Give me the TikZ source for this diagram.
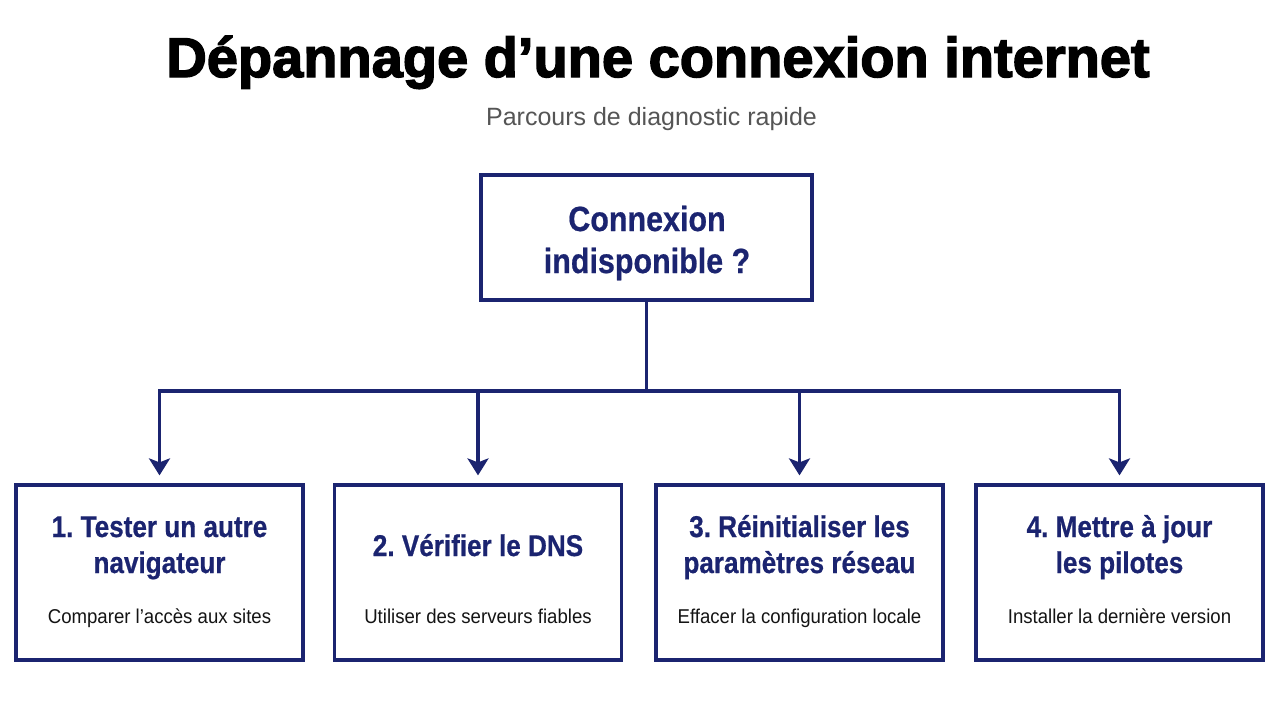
\documentclass[tikz,border=0pt]{standalone}
\usepackage{fontspec}
\setmainfont{Liberation Sans}
\newfontfamily\headfont{Liberation Sans}[FakeBold=2.5]
\newfontfamily\condfont{Liberation Sans}[FakeStretch=0.87,FakeBold=0.6]
\newfontfamily\condreg{Liberation Sans}[FakeStretch=0.93]
\usetikzlibrary{arrows.meta}
\definecolor{navy}{RGB}{27,36,112}
\definecolor{subgray}{RGB}{85,85,85}
\definecolor{ink}{RGB}{20,20,20}
\frenchspacing
\begin{document}
\begin{tikzpicture}[x=1pt,y=-1pt,
  frame/.style={draw=navy,line width=3.2pt,inner sep=0pt,fill=white},
  topbox/.style={frame,minimum width=331pt,minimum height=125pt},
  stepbox/.style={frame,minimum width=287pt,minimum height=175pt},
  txt/.style={anchor=base,inner sep=0pt,outer sep=0pt},
  headtxt/.style={txt,text=black,font=\headfont\bfseries\fontsize{56}{60}\selectfont},
  subtxt/.style={txt,text=subgray,font=\fontsize{25}{30}\selectfont},
  qtxt/.style={txt,text=navy,font=\condfont\bfseries\fontsize{35}{40}\selectfont},
  steptitle/.style={txt,text=navy,font=\condfont\bfseries\fontsize{30}{34}\selectfont},
  stepsub/.style={txt,text=ink,font=\condreg\fontsize{20}{24}\selectfont},
  conn/.style={draw=navy,line width=3.2pt,line join=miter},
  arr/.style={conn,-{Stealth[length=17pt,width=21pt,inset=4pt]},shorten >=8pt}
]
\useasboundingbox (0,0) rectangle (1280,702);
\fill[white] (0,0) rectangle (1280,702);

\node[headtxt] (title) at (658,77) {Dépannage d’une connexion internet};
\node[subtxt] (subtitle) at (651.5,125) {Parcours de diagnostic rapide};

\node[topbox] (q) at (646.5,237.5) {};
\node[qtxt] (q1) at (647,231) {Connexion};
\node[qtxt] (q2) at (647,273) {indisponible ?};

\node[stepbox] (b1) at (159.5,572.5) {};
\node[stepbox] (b2) at (478,572.5) {};
\node[stepbox] (b3) at (799.5,572.5) {};
\node[stepbox] (b4) at (1119.5,572.5) {};

\node[steptitle] (t1a) at (159.5,537) {1. Tester un autre};
\node[steptitle] (t1b) at (159.5,573) {navigateur};
\node[stepsub] (s1) at (159.5,623) {Comparer l’accès aux sites};

\node[steptitle] (t2a) at (478,556) {2. Vérifier le DNS};
\node[stepsub] (s2) at (478,623) {Utiliser des serveurs fiables};

\node[steptitle] (t3a) at (799.5,537) {3. Réinitialiser les};
\node[steptitle] (t3b) at (799.5,573) {paramètres réseau};
\node[stepsub] (s3) at (799.5,623) {Effacer la configuration locale};

\node[steptitle] (t4a) at (1119.5,537) {4. Mettre à jour};
\node[steptitle] (t4b) at (1119.5,573) {les pilotes};
\node[stepsub] (s4) at (1119.5,623) {Installer la dernière version};

\coordinate (bus) at (646.5,391);
\draw[conn] (q.south) -- (bus);
\draw[arr] (bus) -| (b1.north);
\draw[arr] (bus) -| (b2.north);
\draw[arr] (bus) -| (b3.north);
\draw[arr] (bus) -| (b4.north);
\end{tikzpicture}
\end{document}
